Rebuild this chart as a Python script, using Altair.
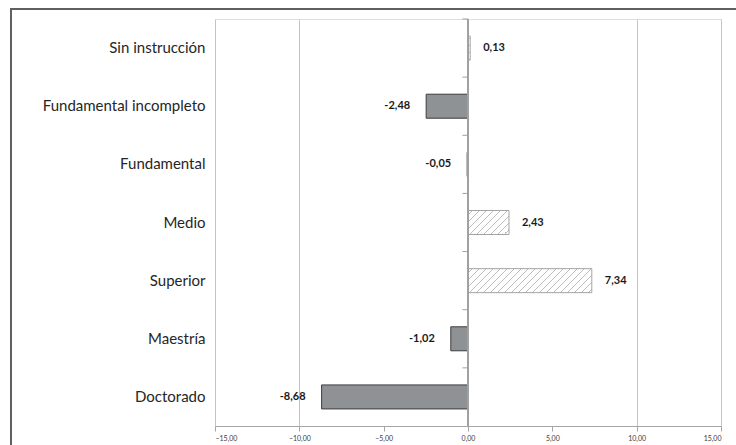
import altair as alt
import pandas as pd

# Variación por nivel de instrucción
categorias = ["Sin instrucción", "Fundamental incompleto", "Fundamental", "Medio",
              "Superior", "Maestría", "Doctorado"]
valores = [0.13, -2.48, -0.05, 2.43, 7.34, -1.02, -8.68]
ticks_x = [-15, -10, -5, 0, 5, 10, 15]

df = pd.DataFrame({"cat": categorias, "v": valores})

W, H = 506, 407
DOMAIN = [-15, 15]
BAR = 24
px_per_unit = W / (DOMAIN[1] - DOMAIN[0])

xscale = alt.Scale(domain=DOMAIN, nice=False, zero=False)
yscale = alt.Scale(paddingInner=0, paddingOuter=0)


def hatch(value, period=7.0, line=1.3, color="#bdbdbd"):
    """Diagonal '/' hatching built as a hard-stop linear gradient for one bar."""
    w = max(abs(value) * px_per_unit, 1.0)
    h = float(BAR)
    k = (w + h) / (w * w + h * h)
    span = w + h
    stops = [{"offset": 0, "color": "white"}]
    s = period / 2
    while s < span:
        a, b = s / span, min((s + line) / span, 1.0)
        stops += [{"offset": a, "color": "white"}, {"offset": a, "color": color},
                  {"offset": b, "color": color}, {"offset": b, "color": "white"}]
        s += period
    stops.append({"offset": 1, "color": "white"})
    return {"gradient": "linear", "x1": 0, "y1": 0, "x2": w * k, "y2": h * k,
            "stops": stops}


base = alt.Chart(df)

y_labels = alt.Y("cat:N", sort=categorias, scale=yscale, title=None,
                 axis=alt.Axis(domain=False, ticks=False, labelPadding=10,
                               labelFontSize=15, labelFont="Lato",
                               labelColor="#262626", labelLimit=300))

x_enc = alt.X("v:Q", scale=xscale, title=None,
              axis=alt.Axis(values=ticks_x, tickSize=5, tickColor="#a6a6a6",
                            domainColor="#a6a6a6", gridColor="#c4c4c4",
                            gridOpacity={"condition": {"test": "abs(datum.value) < 6",
                                                       "value": 0}, "value": 1},
                            labelFontSize=7, labelColor="#3a3a3a", labelPadding=3,
                            labelFont="Lato",
                            labelExpr="replace(format(datum.value, '.2f'), '.', ',')"))

# negative bars: solid grey
neg = base.transform_filter("datum.v < 0").mark_bar(
    size=BAR, fill="#8e9295", stroke="#3c3c3c", strokeWidth=1
).encode(x=x_enc, x2=alt.datum(0), y=y_labels)

# positive bars: hatched, one gradient per bar
pos_layers = []
for c, v in zip(categorias, valores):
    if v > 0:
        pos_layers.append(
            base.transform_filter(alt.datum.cat == c).mark_bar(
                size=BAR, fill=hatch(v), stroke="#a4a4a4", strokeWidth=1
            ).encode(x=alt.X("v:Q", scale=xscale), x2=alt.datum(0),
                     y=alt.Y("cat:N", sort=categorias, scale=yscale))
        )

# zero axis line with category ticks
zero_line = base.mark_rule(color="#a0a0a0", strokeWidth=1).encode(x=alt.datum(0))
zero_ticks = base.mark_rule(color="#a0a0a0", strokeWidth=1).encode(
    x=alt.datum(-0.33), x2=alt.datum(0),
    y=alt.Y("cat:N", sort=categorias, scale=yscale, bandPosition=0)
)

label_expr = "replace(replace(format(datum.v, '.2f'), '.', ','), '\u2212', '-')"
txt_style = dict(fontSize=11, fontWeight="bold", font="Lato", color="#1a1a1a",
                 baseline="middle")
pos_txt = base.transform_filter("datum.v >= 0").transform_calculate(
    lbl=label_expr).mark_text(align="left", dx=13, **txt_style).encode(
    x=alt.X("v:Q", scale=xscale), y=alt.Y("cat:N", sort=categorias, scale=yscale),
    text="lbl:N")
neg_txt = base.transform_filter("datum.v < 0").transform_calculate(
    lbl=label_expr).mark_text(align="right", dx=-16, **txt_style).encode(
    x=alt.X("v:Q", scale=xscale), y=alt.Y("cat:N", sort=categorias, scale=yscale),
    text="lbl:N")

# outer frame of the chart area
frame = base.mark_rect(fill=None, stroke="#606060", strokeWidth=2).encode(
    x=alt.value(-204), x2=alt.value(W + 100), y=alt.value(-10), y2=alt.value(H + 100)
)

chart = alt.layer(
    neg, *pos_layers, zero_line, zero_ticks, pos_txt, neg_txt, frame
).properties(
    width=W, height=H,
    autosize=alt.AutoSizeParams(type="none"),
    padding={"left": 215, "top": 19, "right": 15, "bottom": 19},
).configure_view(strokeWidth=0).configure(background="white")

chart.save("out.html", embed_options={"renderer": "svg", "actions": False})
